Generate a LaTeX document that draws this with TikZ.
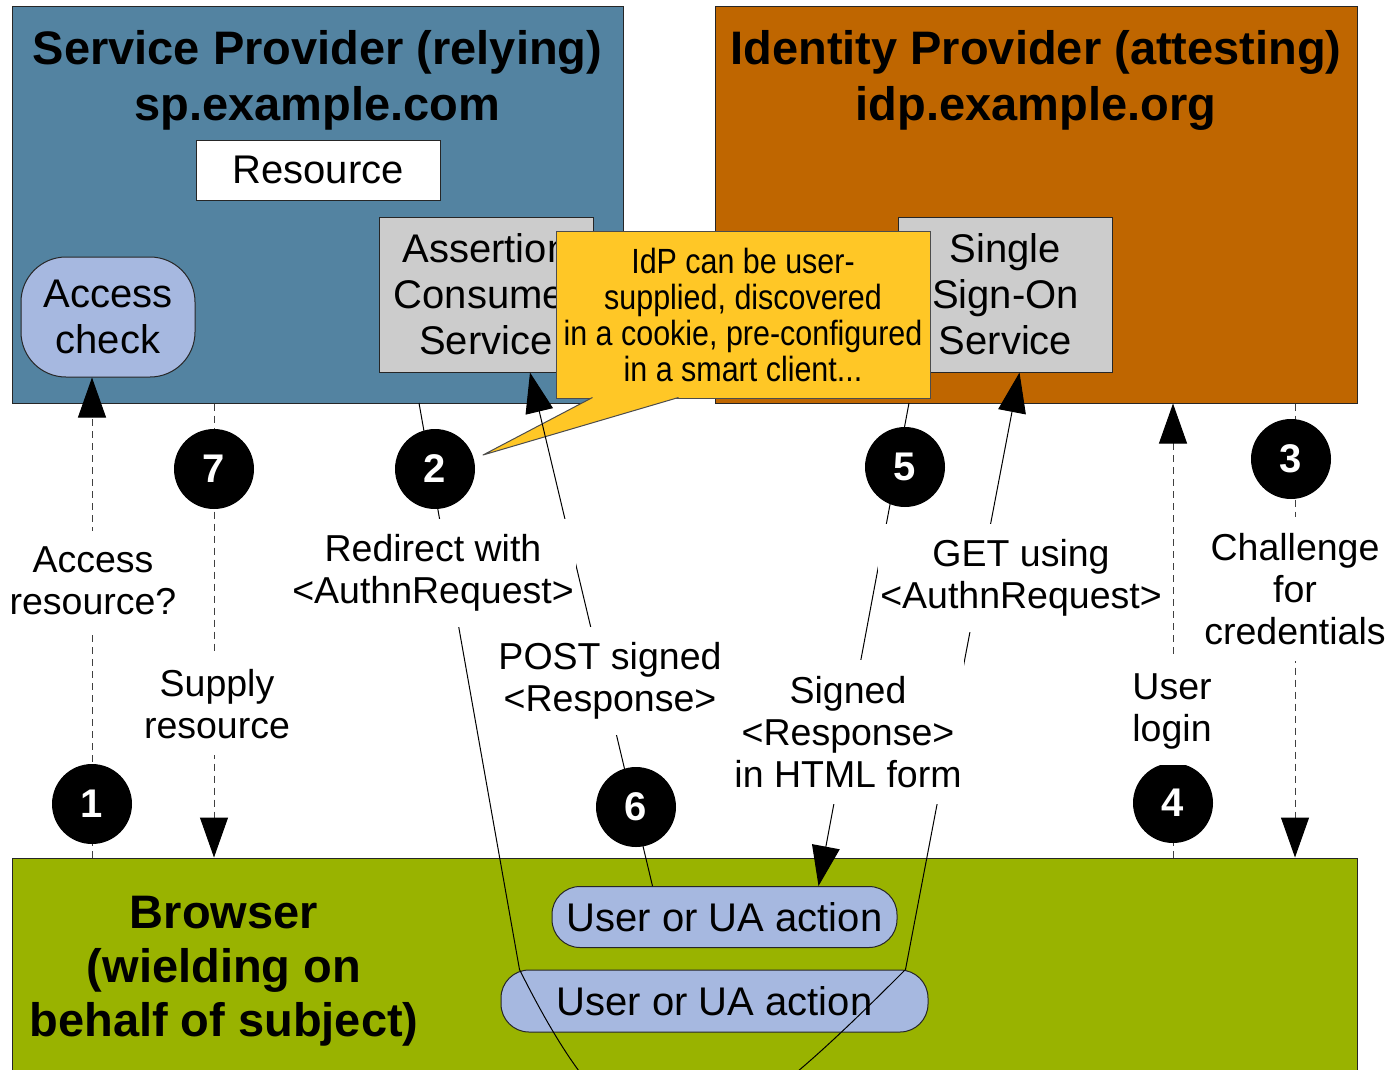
\documentclass[tikz,border=0pt]{standalone}
\usepackage{fontspec}
\setmainfont{Liberation Sans}
\newfontfamily\calloutfont[FakeStretch=0.87]{Liberation Sans}
\usetikzlibrary{arrows.meta}

\definecolor{spblue}{RGB}{83,131,161}
\definecolor{idporange}{RGB}{191,102,0}
\definecolor{uagreen}{RGB}{153,179,0}
\definecolor{actionblue}{RGB}{166,184,224}
\definecolor{servicegray}{RGB}{204,204,204}
\definecolor{notegold}{RGB}{255,199,38}

\newcommand{\bigfont}{\fontsize{47}{56}\selectfont\bfseries}
\newcommand{\boxfont}{\fontsize{40}{46}\selectfont}
\newcommand{\msgfont}{\fontsize{37.5}{42}\selectfont}

\pgfdeclarelayer{back}
\pgfdeclarelayer{wires}
\pgfsetlayers{back,wires,main}

\tikzset{
	party/.style={draw=black!85, line width=1pt, inner sep=0pt},
	heading/.style={align=center, font=\bigfont},
	svc/.style={draw=black!85, fill=servicegray, line width=1pt, align=center, font=\boxfont, minimum width=214, minimum height=155, inner sep=0pt},
	action/.style={draw=black!85, fill=actionblue, line width=1pt, rounded corners=28, minimum height=61, font=\boxfont, inner sep=0pt},
	idpnote/.style={draw=black!70, fill=notegold, line width=1pt, align=center, minimum width=374, minimum height=167, inner sep=0pt, font={\calloutfont\fontsize{35}{36}\selectfont}},
	msg/.style={fill=white, align=center, font=\msgfont, inner xsep=2pt, inner ysep=16pt},
	stepno/.style={circle, fill=black, text=white, minimum size=80, inner sep=0pt, font=\fontsize{40}{40}\selectfont\bfseries},
	wire/.style={line width=1pt},
	dashwire/.style={line width=1pt, black!75, dash pattern=on 7pt off 5pt},
	headed/.style={-{Triangle[length=40pt,width=28pt,color=black]}}
}

\begin{document}
\begin{tikzpicture}[x=1pt, y=-1pt]
	\useasboundingbox (0,0) rectangle (1389,1069);
	\begin{pgfonlayer}{back}
		\node[party, fill=spblue, minimum width=611, minimum height=397] (sp) at (317.5,204.5) {};
		\node[party, fill=idporange, minimum width=642, minimum height=397] (idp) at (1036,204.5) {};
		\node[party, fill=uagreen, minimum width=1345, minimum height=260] (browser) at (684.5,988) {};
		\node[party, fill=white, minimum width=244, minimum height=60, font=\boxfont] (res) at (318,170) {Resource};
		\node[action, align=center, rounded corners=45, minimum width=174, minimum height=120] (check) at (108,317) {Access\\check};
		\node[svc] (acs) at (486,294.5) {Assertion\\Consumer\\Service};
		\node[svc] (sso) at (1005.5,294.5) {Single\\Sign-On\\Service};
		\node[action, minimum width=345] (ua1) at (724.5,917) {User or UA action};
		\node[action, minimum width=427, minimum height=62] (ua2) at (714.5,1001) {User or UA action};
		\node[idpnote] (note) at (743,314.5) {IdP can be user-\\supplied, discovered\\in a cookie, pre-configured\\in a smart client...};
		\coordinate (notetip) at (483,455);
		\filldraw[draw=black!70, fill=notegold, line width=1pt, line join=round] ([xshift=37pt,yshift=1pt]note.south west) -- (notetip) -- ([xshift=-252pt,yshift=1pt]note.south east);
	\end{pgfonlayer}

	\node[heading] (sptitle) at (317.5,80) {Service Provider (relying)\\sp.example.com};
	\node[heading] (idptitle) at (1036,80) {Identity Provider (attesting)\\idp.example.org};
	\node[heading, font=\fontsize{47}{54}\selectfont\bfseries] (uatitle) at (224,971) {Browser\\(wielding on\\behalf of subject)};

	\node[stepno] (n1) at (92,804) {1};
	\node[stepno] (n2) at (435,469) {2};
	\node[stepno] (n3) at (1291,459) {3};
	\node[stepno] (n4) at (1173,803) {4};
	\node[stepno] (n5) at (905,467) {5};
	\node[stepno] (n6) at (636,807) {6};
	\node[stepno] (n7) at (214,469) {7};

	\node[msg] (m1) at (93,581) {Access\\resource?};
	\node[msg] (m7) at (217,704) {Supply\\resource};
	\node[msg] (m2) at (433,573) {Redirect with\\<AuthnRequest>};
	\node[msg] (m6) at (610,681) {POST signed\\<Response>};
	\node[msg] (m5) at (848,732) {Signed\\<Response>\\in HTML form};
	\node[msg] (m2b) at (1021,578) {GET using\\<AuthnRequest>};
	\node[msg] (m4) at (1172,711) {User\\login};
	\node[msg] (m3) at (1295,589) {Challenge\\for\\credentials};

	\coordinate (redirect) at (419,403);
	\coordinate (signed) at (909,403);
	\begin{pgfonlayer}{wires}
		\draw[dashwire, headed] (n1 |- browser.north) -- (n1 |- check.south);
		\draw[dashwire, headed] (n7 |- sp.south) -- (n7 |- browser.north);
		\draw[dashwire, headed] (m3 |- idp.south) -- (m3 |- browser.north);
		\draw[dashwire, headed] (n4 |- browser.north) -- (n4 |- idp.south);
		\draw[wire, headed] (redirect) -- ([xshift=19pt]ua2.north west) .. controls +(120,240) and +(-200,200) .. ([xshift=-23pt]ua2.north east) -- ([xshift=14pt]sso.south);
		\draw[wire, headed] (signed) -- ([xshift=94pt]ua1.north);
		\draw[wire, headed] ([xshift=-72pt]ua1.north) -- ([xshift=44pt]acs.south);
	\end{pgfonlayer}
\end{tikzpicture}
\end{document}
